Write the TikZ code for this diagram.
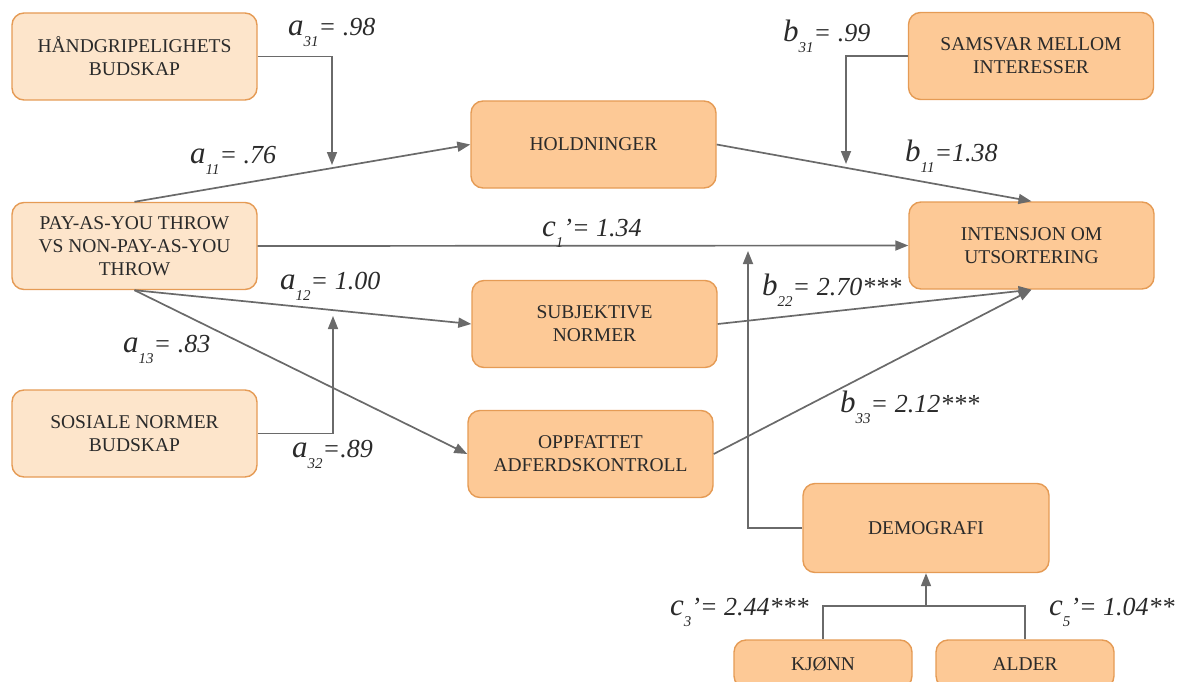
\documentclass[tikz,border=0pt]{standalone}
\usepackage{fontspec}
\setmainfont{Liberation Serif}
\usetikzlibrary{arrows.meta}
\definecolor{lightfill}{HTML}{FDE5CB}
\definecolor{darkfill}{HTML}{FDC996}
\definecolor{boxedge}{HTML}{E59B55}
\definecolor{linegray}{HTML}{6A6A6A}
\definecolor{txt}{HTML}{2A2A2A}
% path coefficient: letter, subscript, remainder
\newcommand\pathcoef[3]{{\fontsize{31}{31}\selectfont #1}\raisebox{-11pt}{\fontsize{15}{15}\selectfont #2}{\fontsize{26}{26}\selectfont #3}}
\begin{document}
\begin{tikzpicture}[x=1pt,y=-1pt,
  box/.style={draw=boxedge, line width=1.4pt, rounded corners=12pt, inner sep=0pt,
    minimum width=245pt, minimum height=87pt, align=center,
    font=\fontsize{19.5}{23}\selectfont, text=txt},
  lightbox/.style={box, fill=lightfill},
  darkbox/.style={box, fill=darkfill},
  conn/.style={draw=linegray, line width=1.7pt, -{Triangle[length=13pt,width=10pt]}},
  plainline/.style={draw=linegray, line width=1.7pt},
  coef/.style={anchor=base west, inner sep=0pt, text=txt, font=\itshape}]
\useasboundingbox (0,0) rectangle (1185,682);

% exogenous message boxes
\node[lightbox] (hand) at (134.5,56.5) {HÅNDGRIPELIGHETS\\BUDSKAP};
\node[lightbox] (pay)  at (134.5,246)  {PAY-AS-YOU THROW\\VS NON-PAY-AS-YOU\\THROW};
\node[lightbox] (sos)  at (134.5,433.5) {SOSIALE NORMER\\BUDSKAP};

% mediators and outcome
\node[darkbox] (hold) at (593.5,144.5) {HOLDNINGER};
\node[darkbox] (subj) at (594.5,324) {SUBJEKTIVE\\NORMER};
\node[darkbox] (oppf) at (590.5,454) {OPPFATTET\\ADFERDSKONTROLL};
\node[darkbox] (samsvar) at (1031,56) {SAMSVAR MELLOM\\INTERESSER};
\node[darkbox] (intens) at (1031.5,245.5) {INTENSJON OM\\UTSORTERING};
\node[darkbox, minimum width=246pt, minimum height=89pt] (demo) at (926,528) {DEMOGRAFI};
\node[darkbox, minimum width=178pt, minimum height=48pt] (kjonn) at (823,664) {KJØNN};
\node[darkbox, minimum width=178pt, minimum height=48pt] (alder) at (1025,664) {ALDER};

% end points of moderator arrows and the demographic junction
\coordinate (a31tip) at (332,165);
\coordinate (b31tip) at (846,164);
\coordinate (a32tip) at (333,316);
\coordinate (demotip) at (748,251);
\coordinate (junc) at (926,606);

% direct and indirect paths
\draw[conn] (pay.north) -- (hold.west);
\draw[conn] (pay.east) -- (intens.west);
\draw[conn] (pay.south) -- (subj.west);
\draw[conn] (pay.south) -- (oppf.west);
\draw[conn] (hold.east) -- (intens.north);
\draw[conn] (subj.east) -- (intens.south);
\draw[conn] (oppf.east) -- (intens.south);

% moderators
\draw[conn] (hand.east) -| (a31tip);
\draw[conn] (sos.east) -| (a32tip);
\draw[conn] (samsvar.west) -| (b31tip);
\draw[conn] (demo.west) -| (demotip);
\draw[plainline] (kjonn.north) |- (junc) -| (alder.north);
\draw[conn] (junc) -- (demo.south);

% coefficients
\node[coef] (la31) at (288,36)  {\pathcoef{a}{31}{= .98}};
\node[coef] (la11) at (190,163) {\pathcoef{a}{11}{= .76}};
\node[coef] (lb31) at (783,42)  {\pathcoef{b}{31}{= .99}};
\node[coef] (lb11) at (905,161) {\pathcoef{b}{11}{=1.38}};
\node[coef] (lc1)  at (542,236) {\pathcoef{c}{1}{’= 1.34}};
\node[coef] (la12) at (280,289) {\pathcoef{a}{12}{= 1.00}};
\node[coef] (la13) at (123,352) {\pathcoef{a}{13}{= .83}};
\node[coef] (la32) at (292,457) {\pathcoef{a}{32}{=.89}};
\node[coef] (lb22) at (762,295) {\pathcoef{b}{22}{= 2.70***}};
\node[coef] (lb33) at (840,412) {\pathcoef{b}{33}{= 2.12***}};
\node[coef] (lc3)  at (670,615) {\pathcoef{c}{3}{’= 2.44***}};
\node[coef] (lc5)  at (1049,615) {\pathcoef{c}{5}{’= 1.04**}};
\end{tikzpicture}
\end{document}
